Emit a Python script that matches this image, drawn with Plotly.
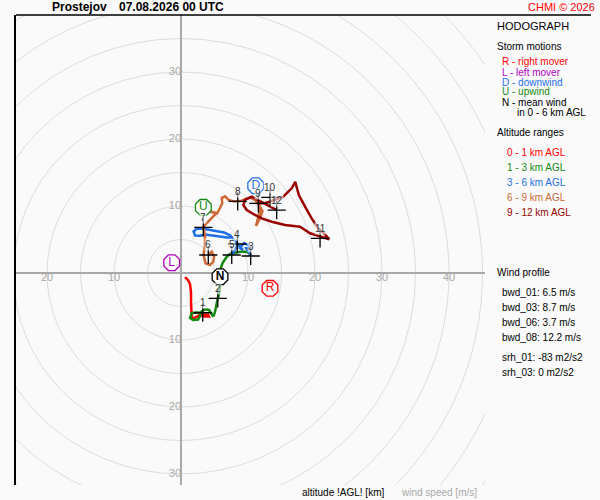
import plotly.graph_objects as go

station = 'Prostejov'
run_time = '07.08.2026 00 UTC'

# hodograph segments, u/v wind components [m/s]
u_0_1 = [0.6, 1.04, 1.34, 1.49, 1.49, 1.54, 1.6, 1.94, 2.54, 3.28, 4.03, 4.18, 3.43, 2.69, 3.24]
v_0_1 = [-0.64, -1.04, -1.64, -2.84, -4.33, -5.67, -6.57, -6.72, -6.42, -6.19, -6.19, -6.49, -6.49, -6.27, -5.93]

u_1_3 = [3.24, 2.2, 1.6, 1.34, 1.8, 2.54, 2.84, 2.99, 3.58, 4.18, 4.58, 4.82, 5.07, 5.22, 5.48,
         5.72, 5.82, 5.82, 5.93, 6.22, 6.82, 7.31, 8.06, 8.81, 9.81, 10.19, 10.4]
v_1_3 = [-5.93, -5.9, -6.0, -6.7, -7.0, -6.94, -6.42, -5.78, -5.42, -5.52, -6.12, -6.52, -5.82, -5.03, -3.78,
         -3.03, -2.04, -0.9, 0.7, 1.54, 2.43, 2.84, 3.03, 3.18, 3.18, 2.94, 2.54]

u_3_6 = [10.4, 10.15, 9.7, 10.3, 9.4, 8.8, 9.25, 8.5, 8.06, 8.4, 7.7, 7.06, 5.82, 4.58, 3.58, 2.84,
         2.09, 1.87, 2.39, 3.33, 4.33, 5.37, 6.42, 7.31, 7.91, 8.5, 8.2, 7.9, 7.57]
v_3_6 = [2.54, 3.13, 3.73, 4.03, 4.48, 3.73, 3.43, 4.18, 4.63, 4.33, 5.2, 5.3, 5.45, 5.7, 5.75, 5.55,
         5.6, 6.2, 6.65, 6.6, 6.45, 6.3, 6.05, 5.62, 4.93, 4.33, 3.73, 3.28, 2.69]

u_6_9 = [4.07, 4.58, 4.93, 4.82, 4.33, 3.66, 3.36, 3.58, 3.58, 3.33, 3.84, 4.58, 5.33, 4.33, 5.37,
         5.82, 6.16, 6.07, 6.57, 7.06, 7.81, 8.46, 9.06, 9.55, 10.3, 11.04, 11.64, 12.16, 11.79,
         11.19, 11.57, 11.79, 11.54]
v_6_9 = [2.69, 3.18, 2.43, 1.69, 1.19, 1.45, 2.69, 4.18, 5.52, 6.82, 7.46, 8.21, 8.96, 9.18, 8.88,
         9.7, 10.45, 11.19, 11.45, 10.94, 10.7, 10.7, 10.79, 11.04, 11.27, 10.9, 10.15, 9.25, 8.21,
         7.01, 8.36, 9.4, 10.4]

u_9_12 = [11.54, 12.54, 13.28, 14.03, 15.27, 16.01, 16.52, 17.05, 17.27, 17.6, 18.51, 19.5, 20.49,
          21.49, 22.13, 20.75, 19.25, 17.76, 15.52, 13.54, 12.04, 11.04, 9.81, 9.3, 9.55, 10.55,
          11.49, 12.54, 13.54, 14.28]
v_9_12 = [10.4, 10.45, 10.64, 10.9, 11.39, 12.13, 12.64, 13.6, 12.64, 11.6, 9.9, 8.16, 6.67,
          5.78, 5.03, 5.42, 5.93, 6.91, 7.16, 7.66, 8.16, 8.66, 9.4, 10.15, 10.9, 11.39,
          10.9, 10.3, 9.9, 9.4]

# altitude marks [km AGL]
km_labels = ['1', '2', '3', '4', '5', '6', '7', '8', '9', '10', '11', '12']
km_u = [3.24, 5.48, 10.4, 8.4, 7.57, 4.07, 3.33, 8.46, 11.54, 13.3, 20.75, 14.28]
km_v = [-5.93, -3.78, 2.54, 4.33, 2.69, 2.69, 6.82, 10.7, 10.4, 11.3, 5.18, 9.4]

# storm motions
storm_labels = ['R', 'L', 'D', 'U', 'N']
storm_u = [13.28, -1.39, 11.15, 3.33, 5.82]
storm_v = [-2.29, 1.54, 13.03, 9.8, -0.55]

x_ticks = [-20, -10, 10, 20, 30, 40]
y_ticks = [30, 20, 10, -10, -20, -30]
ring_radii = [5, 10, 15, 20, 25, 30, 35, 40, 45, 50, 55, 60]

bwd_names = ['bwd_01', 'bwd_03', 'bwd_06', 'bwd_08']
bwd_values = [6.5, 8.7, 3.7, 12.2]
srh_names = ['srh_01', 'srh_03']
srh_values = [-83, 0]

FONT = 'Liberation Sans, Arial, sans-serif'
seg_colors = ['#ff0000', '#128a12', '#1e6ee6', '#cd6937', '#990000']
storm_colors = {'R': '#ff0000', 'L': '#b000c0', 'D': '#1e6ee6', 'U': '#128a12', 'N': '#000000'}


def px(x):
    return (x - 16) / 469


def py(y):
    return (485 - y) / 470


fig = go.Figure()

# 风圈
for r in ring_radii:
    fig.add_shape(type='circle', xref='x', yref='y', x0=-r, x1=r, y0=-r, y1=r,
                  line=dict(color='#dcdcdc', width=1), layer='below')

segments = [(u_0_1, v_0_1), (u_1_3, v_1_3), (u_3_6, v_3_6), (u_6_9, v_6_9), (u_9_12, v_9_12)]
for (u, v), color in zip(segments, seg_colors):
    fig.add_trace(go.Scatter(x=u, y=v, mode='lines',
                             line=dict(color=color, width=2.5), hoverinfo='skip'))

fig.add_trace(go.Scatter(x=km_u, y=km_v, mode='markers',
                         marker=dict(symbol='cross-thin', size=13,
                                     line=dict(color='black', width=1.3)),
                         hoverinfo='skip'))

for lab, u, v in zip(km_labels, km_u, km_v):
    fig.add_annotation(x=u, y=v, text=lab, showarrow=False, yshift=10,
                       font=dict(family=FONT, size=10, color='#333333'),
                       bgcolor='rgba(250,250,250,0.6)', borderpad=0)

fig.add_trace(go.Scatter(
    x=storm_u, y=storm_v, mode='markers+text',
    text=['<b>N</b>' if s == 'N' else s for s in storm_labels],
    textposition='middle center',
    textfont=dict(family=FONT, size=12, color=[storm_colors[s] for s in storm_labels]),
    marker=dict(symbol='octagon', size=17, color='white',
                line=dict(color=[storm_colors[s] for s in storm_labels], width=1.3)),
    hoverinfo='skip'))

# 坐标轴刻度
fig.add_trace(go.Scatter(x=x_ticks, y=[0] * len(x_ticks), mode='text',
                         text=[str(abs(t)) for t in x_ticks], textposition='bottom center',
                         textfont=dict(family=FONT, size=11, color='#a8a8a8'), hoverinfo='skip'))
fig.add_trace(go.Scatter(x=[0] * len(y_ticks), y=y_ticks, mode='text',
                         text=[str(abs(t)) for t in y_ticks], textposition='middle left',
                         textfont=dict(family=FONT, size=11, color='#a8a8a8'), hoverinfo='skip'))

# top frame line
fig.add_shape(type='line', xref='paper', yref='paper', x0=0, x1=px(591), y0=1, y1=1,
              line=dict(color='black', width=1.5))


def note(text, x, y, color='black', size=10, bold=False, anchor='left'):
    fig.add_annotation(xref='paper', yref='paper', x=px(x), y=py(y),
                       text=f'<b>{text}</b>' if bold else text, showarrow=False,
                       xanchor=anchor, yanchor='middle',
                       font=dict(family=FONT, size=size, color=color))


note(station, 50, 7, size=12, bold=True)
note(run_time, 117, 7, size=12, bold=True)
note('CHMI © 2026', 597, 7, color='#ff0000', size=11, anchor='right')

note('HODOGRAPH', 495, 26, size=11)
note('Storm motions', 495, 47)
storm_texts = [('R - right mover', 'R'), ('L - left mover', 'L'), ('D - downwind', 'D'),
               ('U - upwind', 'U'), ('N - mean wind', 'N')]
for i, (t, s) in enumerate(storm_texts):
    note(t, 500, 62 + 10 * i, color=storm_colors[s])
note('in 0 - 6 km AGL', 515, 112)

note('Altitude ranges', 495, 132)
ranges = ['0 - 1 km AGL', '1 - 3 km AGL', '3 - 6 km AGL', '6 - 9 km AGL', '9 - 12 km AGL']
for i, (t, c) in enumerate(zip(ranges, seg_colors)):
    note(t, 505, 152 + 15 * i, color=c)

note('Wind profile', 495, 272)
for i, (n, val) in enumerate(zip(bwd_names, bwd_values)):
    note(f'{n}: {val} m/s', 500, 292 + 15 * i)
for i, (n, val) in enumerate(zip(srh_names, srh_values)):
    note(f'{n}: {val} m2/s2', 500, 357 + 15 * i)

note('altitude !AGL! [km]', 300, 492)
note('wind speed [m/s]', 399, 492, color='#a8a8a8')

fig.update_layout(
    width=600, height=500,
    margin=dict(l=16, r=115, t=15, b=15),
    paper_bgcolor='#fafafa', plot_bgcolor='#fafafa',
    showlegend=False,
)
fig.update_xaxes(range=[-24.63, 45.37], showgrid=False, showticklabels=False, ticks='',
                 zeroline=True, zerolinecolor='#a8a8a8', zerolinewidth=1.5, showline=False)
fig.update_yaxes(range=[-31.64, 38.51], showgrid=False, showticklabels=False, ticks='',
                 zeroline=True, zerolinecolor='#a8a8a8', zerolinewidth=1.5,
                 showline=True, linecolor='black', linewidth=1.5)

# 去掉页面默认边距，使图从窗口左上角开始
fig.write_html('out.html', config={'displayModeBar': False},
               post_script="document.body.style.margin='0';")
